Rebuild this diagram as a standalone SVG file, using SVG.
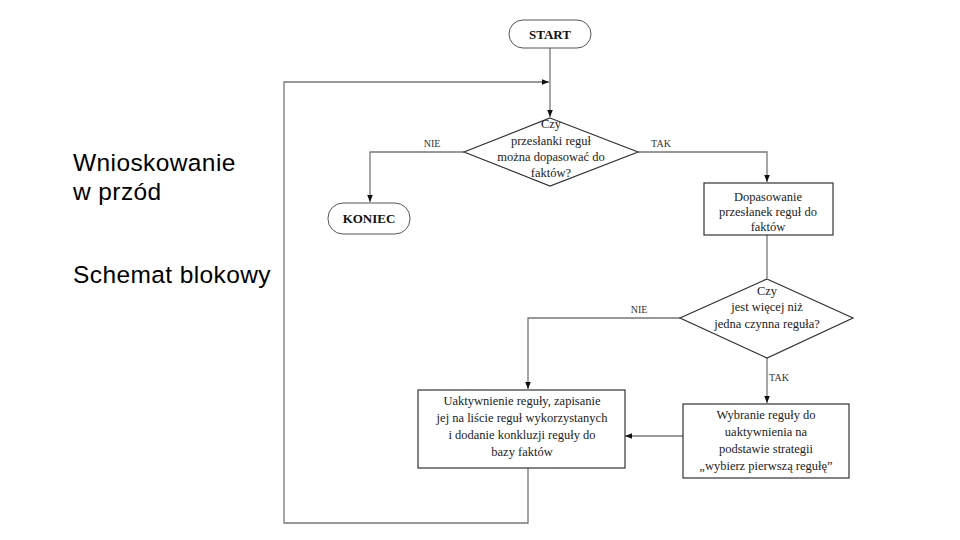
<svg xmlns="http://www.w3.org/2000/svg" width="960" height="540" viewBox="0 0 960 540">
<defs>
<marker id="arr" viewBox="0 0 10 10" refX="10" refY="5" markerWidth="7" markerHeight="7" markerUnits="userSpaceOnUse" orient="auto">
<path d="M0,1 L10,5 L0,9 z" fill="#111"/>
</marker>
</defs>
<style>
.side{font-family:"Liberation Sans","Arial",sans-serif;font-size:24.5px;letter-spacing:0.4px;fill:#000}
.t{font-family:"Liberation Serif","DejaVu Serif",serif;font-size:12.5px;fill:#222;text-anchor:middle}
.b{font-family:"Liberation Serif","DejaVu Serif",serif;font-size:13px;font-weight:bold;fill:#111;text-anchor:middle}
.lbl{font-family:"Liberation Serif","DejaVu Serif",serif;font-size:10px;fill:#333;text-anchor:middle}
.shape{fill:#fff;stroke:#333;stroke-width:1.2}
.term{fill:#fff;stroke:#555;stroke-width:1}
.c{fill:none;stroke:#777;stroke-width:1.3}
</style>
<rect width="960" height="540" fill="#fff"/>
<text class="side" x="73" y="171">Wnioskowanie</text>
<text class="side" x="73" y="200">w przód</text>
<text class="side" x="73" y="283">Schemat blokowy</text>

<g id="connectors">
<path class="c" d="M550,48 V117" marker-end="url(#arr)"/>
<path class="c" d="M528,468 V523 H284 V82 H549" marker-end="url(#arr)"/>
<path class="c" d="M464,152 H370 V202" marker-end="url(#arr)"/>
<path class="c" d="M638,152 H767 V182" marker-end="url(#arr)"/>
<path class="c" d="M767,235 V278"/>
<path class="c" d="M680,318 H528 V389" marker-end="url(#arr)"/>
<path class="c" d="M767,358 V403" marker-end="url(#arr)"/>
<path class="c" d="M683,436 H625" marker-end="url(#arr)"/>
<text class="lbl" x="432" y="147">NIE</text>
<text class="lbl" x="661" y="147">TAK</text>
<text class="lbl" x="639" y="313">NIE</text>
<text class="lbl" x="779" y="381">TAK</text>
</g>

<g id="start">
<rect class="term" x="509" y="20" width="82" height="28" rx="14"/>
<text class="b" x="550" y="39">START</text>
</g>

<g id="decision1">
<polygon class="shape" points="550,118 638,152 550,186 464,152"/>
<text class="t" x="551" y="128">Czy</text>
<text class="t" x="551" y="145">przesłanki reguł</text>
<text class="t" x="551" y="161">można dopasować do</text>
<text class="t" x="551" y="177">faktów?</text>
</g>

<g id="koniec">
<rect class="term" x="328" y="203" width="82" height="31" rx="15"/>
<text class="b" x="369" y="223">KONIEC</text>
</g>

<g id="match">
<rect class="shape" x="704" y="183" width="129" height="52"/>
<text class="t" x="768" y="201">Dopasowanie</text>
<text class="t" x="768" y="216">przesłanek reguł do</text>
<text class="t" x="768" y="231">faktów</text>
</g>

<g id="decision2">
<polygon class="shape" points="767,279 853,318 767,358 680,318"/>
<text class="t" x="767" y="295">Czy</text>
<text class="t" x="767" y="311">jest więcej niż</text>
<text class="t" x="767" y="328">jedna czynna reguła?</text>
</g>

<g id="select">
<rect class="shape" x="683" y="404" width="166" height="74"/>
<text class="t" x="766" y="419">Wybranie reguły do</text>
<text class="t" x="766" y="436">uaktywnienia na</text>
<text class="t" x="766" y="453">podstawie strategii</text>
<text class="t" x="766" y="470">„wybierz pierwszą regułę”</text>
</g>

<g id="activate">
<rect class="shape" x="418" y="390" width="207" height="78"/>
<text class="t" x="522" y="405">Uaktywnienie reguły, zapisanie</text>
<text class="t" x="522" y="422">jej na liście reguł wykorzystanych</text>
<text class="t" x="522" y="439">i dodanie konkluzji reguły do</text>
<text class="t" x="522" y="456">bazy faktów</text>
</g>
</svg>
